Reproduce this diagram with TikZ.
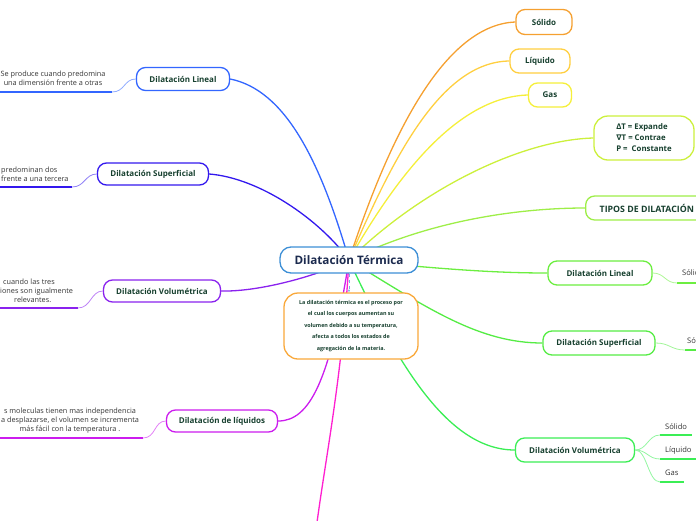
\documentclass[tikz,border=0pt]{standalone}
\usepackage{fontspec}
\setmainfont{Open Sans}
\newfontfamily\dvsans{DejaVu Sans}
\usetikzlibrary{arrows.meta,backgrounds}
\definecolor{cTitle}{HTML}{1B2A4E}
\definecolor{nodetxt}{HTML}{17402F}
\definecolor{desctxt}{HTML}{333333}
\definecolor{cMain}{HTML}{3D8FD6}
\definecolor{cOrange}{HTML}{F9A83A}
\definecolor{cSol}{HTML}{F5A030}
\definecolor{cLiq}{HTML}{FFCF40}
\definecolor{cGas}{HTML}{F5EF3A}
\definecolor{cDT}{HTML}{CCF03C}
\definecolor{cTipos}{HTML}{9EEE48}
\definecolor{cRLin}{HTML}{6CEE40}
\definecolor{cRSup}{HTML}{55EC44}
\definecolor{cRVol}{HTML}{3BEE55}
\definecolor{cLLin}{HTML}{3366FF}
\definecolor{cLSup}{HTML}{3318EE}
\definecolor{cLVol}{HTML}{8A22EE}
\definecolor{cLLiq}{HTML}{CC1CEE}
\definecolor{cDown}{HTML}{FF1FD0}
\begin{document}
\begin{tikzpicture}[x=1pt,y=-1pt,
  topic/.style={draw=#1, fill=white, line width=1.3pt, rounded corners=9pt,
    text=nodetxt, font=\bfseries\fontsize{8}{9.5}\selectfont, inner sep=0pt, minimum height=23pt},
  link/.style={line width=1.3pt, draw=#1},
  thin link/.style={line width=0.8pt, draw=#1!55},
  uline/.style={line width=2pt, draw=#1},
  desc/.style={text=desctxt, font=\fontsize{7.3}{9}\selectfont, inner sep=0pt},
  child/.style={text=desctxt, font=\fontsize{7.6}{9}\selectfont, inner sep=0pt, anchor=west}]
\useasboundingbox (0,0) rectangle (696,520);

% central nodes
\node[topic=cMain, minimum width=138pt, minimum height=26pt, rounded corners=11pt,
  font=\bfseries\fontsize{11.7}{13}\selectfont, text=cTitle] (main) at (349,260) {Dilatación Térmica};
\node[topic=cOrange, minimum width=134pt, minimum height=66pt, rounded corners=14pt, align=center,
  font=\bfseries\fontsize{5.4}{11.5}\selectfont] (def) at (351,326)
  {La dilatación térmica es el proceso por\\el cual los cuerpos aumentan su\\volumen debido a su temperatura,\\afecta a todos los estados de\\agregación de la materia.};

% right nodes
\node[topic=cSol, minimum width=56pt, minimum height=25pt] (rsol) at (544,22) {Sólido};
\node[topic=cLiq, minimum width=60pt, minimum height=24pt] (rliq) at (540,61) {Líquido};
\node[topic=cGas, minimum width=43pt, minimum height=24pt] (rgas) at (550,95) {Gas};
\node[topic=cDT, minimum width=100pt, minimum height=44pt, rounded corners=14pt, align=left,
  font=\bfseries\fontsize{7.8}{11}\selectfont] (rdt) at (644,138)
  {ΔT = Expande\\{\dvsans ∇}T = Contrae\\P = \ Constante};
\node[topic=cTipos, anchor=west, minimum height=24pt, inner xsep=14pt,
  font=\bfseries\fontsize{8.8}{10}\selectfont] (rtipos) at (585,208) {TIPOS DE DILATACIÓN};
\node[topic=cRLin, minimum width=104pt, minimum height=24pt] (rlin) at (600,273) {Dilatación Lineal};
\node[topic=cRSup, minimum width=112pt, minimum height=24pt] (rsup) at (599,343) {Dilatación Superficial};
\node[topic=cRVol, minimum width=119pt, minimum height=24pt] (rvol) at (575,450) {Dilatación Volumétrica};

% left nodes
\node[topic=cLLin, minimum width=93pt] (llin) at (183,79) {Dilatación Lineal};
\node[topic=cLSup, minimum width=111pt, minimum height=22pt] (lsup) at (153,174) {Dilatación Superficial};
\node[topic=cLVol, minimum width=117pt, minimum height=22pt] (lvol) at (162,291) {Dilatación Volumétrica};
\node[topic=cLLiq, minimum width=111pt, minimum height=22pt] (lliq) at (222,421) {Dilatación de líquidos};

% left descriptions
\node[desc, align=center] (dlin) at (53,78.5) {Se produce cuando predomina\\una dimensión frente a otras};
\node[desc, align=left, anchor=west] (dsup) at (1,174.5) {predominan dos\\frente a una tercera};
\node[desc, align=left, anchor=west] (dvol) at (0,291) {\hspace{3pt}cuando las tres\\iones son igualmente\\\hspace{14pt}relevantes.};
\node[desc, align=center] (dliq) at (70,421) {s moleculas tienen mas independencia\\a desplazarse, el volumen se incrementa\\más fácil con la temperatura .};

\coordinate (ulinA) at (0,92);   \coordinate (ulinB) at (112,92);
\coordinate (usupA) at (0,187);  \coordinate (usupB) at (72,187);
\coordinate (uvolA) at (0,308);  \coordinate (uvolB) at (78,308);
\coordinate (uliqA) at (0,438);  \coordinate (uliqB) at (143,438);
\draw[uline=cLLin] (ulinA) -- (ulinB);
\draw[uline=cLSup] (usupA) -- (usupB);
\draw[uline=cLVol] (uvolA) -- (uvolB);
\draw[uline=cLLiq] (uliqA) -- (uliqB);
\draw[thin link=cLLin] (ulinB) .. controls +(13,0) and +(-12,0) .. (llin.west);
\draw[thin link=cLSup] (usupB) .. controls +(13,0) and +(-12,0) .. (lsup.west);
\draw[thin link=cLVol] (uvolB) .. controls +(13,0) and +(-12,0) .. (lvol.west);
\draw[thin link=cLLiq] (uliqB) .. controls +(13,0) and +(-12,0) .. (lliq.west);

% right children
\coordinate (cl1A) at (677,283); \coordinate (cl1B) at (700,283);
\coordinate (cs1A) at (685,350); \coordinate (cs1B) at (700,350);
\coordinate (cv1A) at (660,435); \coordinate (cv1B) at (692,435);
\coordinate (cv2A) at (660,459); \coordinate (cv2B) at (696,459);
\coordinate (cv3A) at (660,482); \coordinate (cv3B) at (684,482);
\node[child] (tl1) at (682,273) {Sólido};
\node[child] (ts1) at (687,341) {Sólido};
\node[child] (tv1) at (665,427) {Sólido};
\node[child] (tv2) at (665,450) {Líquido};
\node[child] (tv3) at (665,473) {Gas};
\draw[uline=cRLin] (cl1A) -- (cl1B);
\draw[uline=cRSup] (cs1A) -- (cs1B);
\draw[uline=cRVol] (cv1A) -- (cv1B);
\draw[uline=cRVol] (cv2A) -- (cv2B);
\draw[uline=cRVol] (cv3A) -- (cv3B);
\draw[thin link=cRLin] (rlin.east) .. controls +(12,0) and +(-12,0) .. (cl1A);
\draw[thin link=cRSup] (rsup.east) .. controls +(14,0) and +(-14,0) .. (cs1A);
\draw[thin link=cRVol] (rvol.east) .. controls +(12,0) and +(-12,0) .. (cv1A);
\draw[thin link=cRVol] (rvol.east) .. controls +(12,0) and +(-12,0) .. (cv2A);
\draw[thin link=cRVol] (rvol.east) .. controls +(12,0) and +(-12,0) .. (cv3A);

% dashed arrow
\draw[cMain!70, dashed, line width=0.6pt, -{Stealth[length=3pt]}] (main.south) -- (main.south |- def.north);

% connectors from centre
\coordinate (downend) at (316,530);
\begin{scope}[on background layer]
\draw[link=cSol] (main.center) .. controls (385,150) and (440,25) .. (rsol.west);
\draw[link=cLiq] (main.center) .. controls (392,160) and (440,62) .. (rliq.west);
\draw[link=cGas] (main.center) .. controls (400,170) and (460,97) .. (rgas.west);
\draw[link=cDT] (main.center) .. controls (420,190) and (520,140) .. (rdt.west);
\draw[link=cTipos] (main.center) .. controls (430,220) and (520,208) .. (rtipos.west);
\draw[link=cRLin] (main.center) .. controls (450,270) and (500,273) .. (rlin.west);
\draw[link=cRSup] (main.center) .. controls (430,310) and (480,343) .. (rsup.west);
\draw[link=cRVol] (main.center) .. controls (400,370) and (450,450) .. (rvol.west);
\draw[link=cLLin] (main.center) .. controls (320,160) and (285,90) .. (llin.east);
\draw[link=cLSup] (main.center) .. controls (320,220) and (260,178) .. (lsup.east);
\draw[link=cLVol] (main.center) .. controls (320,275) and (260,292) .. (lvol.east);
\draw[link=cLLiq] (main.center) .. controls (330,380) and (310,421) .. (lliq.east);
\draw[link=cDown] (main.center) .. controls (342,380) and (325,460) .. (downend);
\end{scope}
\end{tikzpicture}
\end{document}
